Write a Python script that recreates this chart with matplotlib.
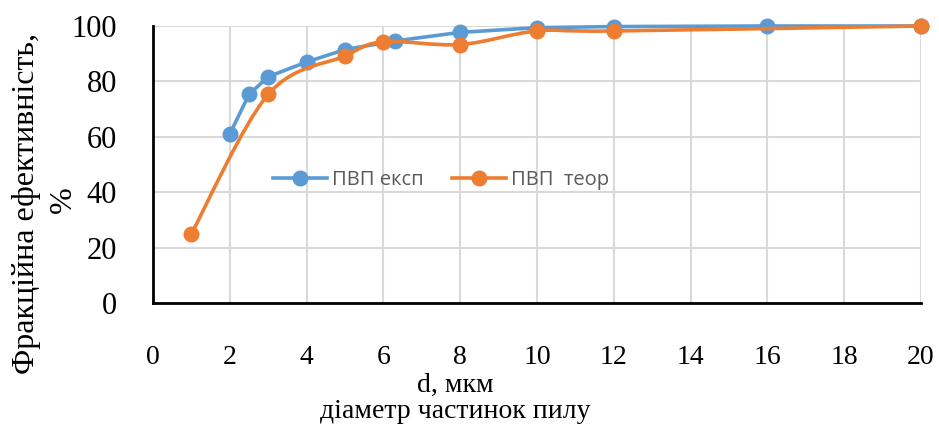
# -*- coding: utf-8 -*-
# fractional efficiency vs particle diameter (PVP exp / theor)

import numpy as np
import matplotlib
matplotlib.use("Agg")
import matplotlib.pyplot as plt
from matplotlib.path import Path
from matplotlib.patches import PathPatch
from matplotlib.lines import Line2D

# ---------------- data ----------------
d_exp   = [2, 2.5, 3, 4, 5, 6.3, 8, 10, 12, 16, 20]
eff_exp = [61, 75.3, 81.7, 87, 91.5, 94.6, 97.7, 99.4, 99.8, 100, 100]
d_teor   = [1, 3, 5, 6, 8, 10, 12, 20]
eff_teor = [25, 75.3, 89.2, 94.3, 93.3, 98.2, 98.2, 100]

x_ticks = [0, 2, 4, 6, 8, 10, 12, 14, 16, 18, 20]
y_ticks = [0, 20, 40, 60, 80, 100]

c_blue = '#5B9BD5'
c_orng = '#ED7D31'
serif = ['Liberation Serif', 'DejaVu Serif']
sans = ['Open Sans', 'DejaVu Sans']


def smooth_path(x, y, k=6.0):
    # excel-like smoothed line: cubic bezier, catmull-rom control points
    p = np.column_stack([x, y]).astype(float)
    verts = [p[0]]
    codes = [Path.MOVETO]
    n = len(p)
    for i in range(n - 1):
        p0 = p[i - 1] if i > 0 else p[i]
        p3 = p[i + 2] if i + 2 < n else p[i + 1]
        c1 = p[i] + (p[i + 1] - p0) / k
        c2 = p[i + 1] - (p3 - p[i]) / k
        verts += [c1, c2, p[i + 1]]
        codes += [Path.CURVE4] * 3
    return Path(verts, codes)


fig = plt.figure(figsize=(9.39, 4.29), dpi=100)
ax = fig.add_axes([153/939, 126/429, 768/939, 277/429])

lw = 2.6
ms = 10.5
ax.plot(d_exp, eff_exp, color=c_blue, lw=lw, solid_joinstyle='round', zorder=3)
ax.plot(d_exp, eff_exp, 'o', color=c_blue, ms=ms, zorder=4)
ax.add_patch(PathPatch(smooth_path(d_teor, eff_teor), fc='none', ec=c_orng,
                       lw=lw, capstyle='round', zorder=5))
ax.plot(d_teor, eff_teor, 'o', color=c_orng, ms=ms, zorder=6)

ax.set_xlim(0, 20)
ax.set_ylim(0, 100)
ax.set_xticks(x_ticks)
ax.set_yticks(y_ticks)
ax.set_xticklabels([str(v) for v in x_ticks], family=serif, fontsize=20)
ax.set_yticklabels([str(v) for v in y_ticks], family=serif, fontsize=22)
ax.tick_params(length=0, pad=30, axis='x')
ax.tick_params(length=0, pad=26, axis='y')
ax.grid(True, color='#D9D9D9', lw=1.5)
ax.set_axisbelow(True)
for s in ['top', 'right']:
    ax.spines[s].set_visible(False)
for s in ['left', 'bottom']:
    ax.spines[s].set_linewidth(2)
    ax.spines[s].set_color('black')
for ch in ax.get_children():
    if isinstance(ch, (Line2D, PathPatch)):
        ch.set_clip_on(False)

h1 = Line2D([], [], color=c_blue, lw=lw, marker='o', ms=ms)
h2 = Line2D([], [], color=c_orng, lw=lw, marker='o', ms=ms)
leg = ax.legend([h1, h2], ['ПВП експ', 'ПВП  теор'], loc='center',
                bbox_to_anchor=(0.375, 0.445), ncol=2, frameon=False,
                prop={'family': sans, 'size': 14.5}, handlelength=2.7,
                columnspacing=1.4, handletextpad=0.25, labelcolor='#595959')

fig.text(27/939, 1 - 203/429, 'Фракційна ефективність,', rotation=90,
         ha='center', va='center', family=serif, fontsize=23)
fig.text(63/939, 1 - 200/429, '%', rotation=90,
         ha='center', va='center', family=serif, fontsize=23)
fig.text(455/939, 1 - 385/429, 'd, мкм', ha='center', va='center',
         family=serif, fontsize=20)
fig.text(455/939, 1 - 412/429, 'діаметр частинок пилу', ha='center',
         va='center', family=serif, fontsize=20)

fig.savefig('out.png', dpi=100)
